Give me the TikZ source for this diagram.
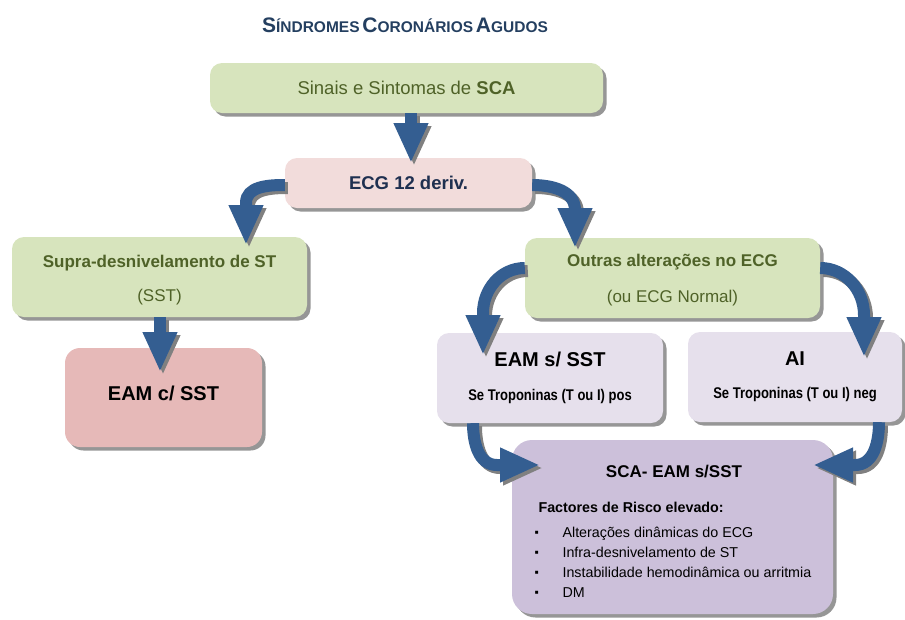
\documentclass[tikz,border=0pt]{standalone}
\usepackage{fontspec}
\setmainfont{Liberation Sans}
\newfontfamily\narrowfont{Liberation Sans}[FakeStretch=0.84]
\usetikzlibrary{arrows.meta,shadows,calc}
\definecolor{boxgreen}{HTML}{D7E4BD}
\definecolor{txtgreen}{HTML}{4F6228}
\definecolor{boxpink}{HTML}{F2DCDB}
\definecolor{boxred}{HTML}{E6B9B8}
\definecolor{boxlav}{HTML}{E6E0EC}
\definecolor{boxpurple}{HTML}{CCC0DA}
\definecolor{arrowblue}{HTML}{345E91}
\definecolor{navy}{HTML}{1F3050}
\definecolor{titleblue}{HTML}{243F60}
\newcommand\fsz[1]{\fontsize{#1}{#1}\selectfont}
\newcommand\blt{\makebox[28pt][l]{\raisebox{1pt}{\fsz{12}▪}}}
\begin{document}
\begin{tikzpicture}[x=1pt,y=-1pt,
  box/.style={rounded corners=12pt, inner sep=0pt, align=center,
    drop shadow={shadow xshift=3.5pt,shadow yshift=-3.5pt,fill=black!55,opacity=0.75}},
  bigarrow/.style={draw=arrowblue, line width=12pt, -{Triangle[width=32pt,length=40pt]}},
  arrowshadow/.style={draw=black!50, line width=12pt, -{Triangle[width=32pt,length=40pt]},
    transform canvas={shift={(3pt,-3pt)}}},
]
\useasboundingbox (0,0) rectangle (905,619);

% title
\node[text=titleblue, font=\bfseries] (title) at (405,25)
  {{\fsz{21}S}{\fsz{15.5}ÍNDROMES} {\fsz{21}C}{\fsz{15.5}ORONÁRIOS} {\fsz{21}A}{\fsz{15.5}GUDOS}};

% boxes
\node[box, fill=boxgreen, minimum width=393pt, minimum height=50pt, text=txtgreen, font=\fsz{18.5}]
  (sinais) at (406.5,88) {Sinais e Sintomas de \textbf{SCA}};
\node[box, fill=boxpink, minimum width=247pt, minimum height=50pt, text=navy, font=\fsz{18.5}\bfseries]
  (ecg) at (408.5,183) {ECG 12 deriv.};
\node[box, fill=boxgreen, minimum width=295pt, minimum height=80pt, text=txtgreen, font=\fsz{17}]
  (supra) at (159.5,277) {\raisebox{-4pt}[\height][\depth]{\begin{tabular}{@{}c@{}}\textbf{Supra-desnivelamento de ST}\\[17pt](SST)\end{tabular}}};
\node[box, rounded corners=15pt, fill=boxred, minimum width=197pt, minimum height=99pt, text=black, font=\fsz{20}\bfseries]
  (eamc) at (163.5,397.5) {\raisebox{4pt}[\height][\depth]{EAM c/ SST}};
\node[box, fill=boxgreen, minimum width=295pt, minimum height=80pt, text=txtgreen, font=\fsz{17}]
  (outras) at (672.5,278) {\raisebox{-3pt}[\height][\depth]{\begin{tabular}{@{}c@{}}\textbf{Outras alterações no ECG}\\[19pt](ou ECG Normal)\end{tabular}}};
\node[box, fill=boxlav, minimum width=226pt, minimum height=90pt, text=black, font=\fsz{15.5}\narrowfont\bfseries]
  (eams) at (550,378) {{\fsz{20}\normalfont\bfseries EAM s/ SST}\\[18pt]Se Troponinas (T ou I) pos};
\node[box, fill=boxlav, minimum width=214pt, minimum height=90pt, text=black, font=\fsz{15.5}\narrowfont\bfseries]
  (ai) at (795,377) {{\fsz{20}\normalfont\bfseries AI}\\[18pt]Se Troponinas (T ou I) neg};
\node[box, rounded corners=20pt, fill=boxpurple, minimum width=321pt, minimum height=174pt]
  (sca) at (672.5,527) {};

% texts of the bottom box
\node[anchor=base, font=\fsz{17}\bfseries] (scat) at (674,477) {SCA- EAM s/SST};
\node[anchor=base west, font=\fsz{14.3}\bfseries] (fact) at (535,512) {Factores de Risco elevado:};
\node[anchor=base west, font=\fsz{14.3}] (l1) at (531,537) {\blt Alterações dinâmicas do ECG};
\node[anchor=base west, font=\fsz{14.3}] (l2) at (531,557) {\blt Infra-desnivelamento de ST};
\node[anchor=base west, font=\fsz{14.3}] (l3) at (531,577) {\blt Instabilidade hemodinâmica ou arritmia};
\node[anchor=base west, font=\fsz{14.3}] (l4) at (531,597) {\blt DM};

% arrow coordinates
\coordinate (t1) at (411,163);
\coordinate (c2) at (246,203); \coordinate (t2) at (246,245);
\coordinate (c3) at (575,210); \coordinate (t3) at (575,248);
\coordinate (t4) at (160,372);
\coordinate (c5) at (483,313); \coordinate (t5) at (483,355);
\coordinate (c6) at (864,315); \coordinate (t6) at (864,357);
\coordinate (s7) at (473,0); \coordinate (c7) at (497,465); \coordinate (t7) at (540,465);
\coordinate (s8) at (879,0); \coordinate (c8) at (855,465); \coordinate (t8) at (813,465);

% arrow shadows
\draw[arrowshadow] (sinais.south -| t1) -- (t1);
\draw[arrowshadow] ($(ecg.west)+(0,2)$) to[out=180,in=90] (c2) -- (t2);
\draw[arrowshadow] ($(ecg.east)+(0,2)$) to[out=0,in=90] (c3) -- (t3);
\draw[arrowshadow] (supra.south -| t4) -- (t4);
\draw[arrowshadow] ($(outras.west)+(0,-10)$) to[out=180,in=90] (c5) -- (t5);
\draw[arrowshadow] ($(outras.east)+(0,-10)$) to[out=0,in=90] (c6) -- (t6);
\draw[arrowshadow] (eams.south -| s7) to[out=-90,in=180] (c7) -- (t7);
\draw[arrowshadow] (ai.south -| s8) to[out=-90,in=0] (c8) -- (t8);

% arrows
\draw[bigarrow] (sinais.south -| t1) -- (t1);
\draw[bigarrow] ($(ecg.west)+(0,2)$) to[out=180,in=90] (c2) -- (t2);
\draw[bigarrow] ($(ecg.east)+(0,2)$) to[out=0,in=90] (c3) -- (t3);
\draw[bigarrow] (supra.south -| t4) -- (t4);
\draw[bigarrow] ($(outras.west)+(0,-10)$) to[out=180,in=90] (c5) -- (t5);
\draw[bigarrow] ($(outras.east)+(0,-10)$) to[out=0,in=90] (c6) -- (t6);
\draw[bigarrow] (eams.south -| s7) to[out=-90,in=180] (c7) -- (t7);
\draw[bigarrow] (ai.south -| s8) to[out=-90,in=0] (c8) -- (t8);
\end{tikzpicture}
\end{document}
